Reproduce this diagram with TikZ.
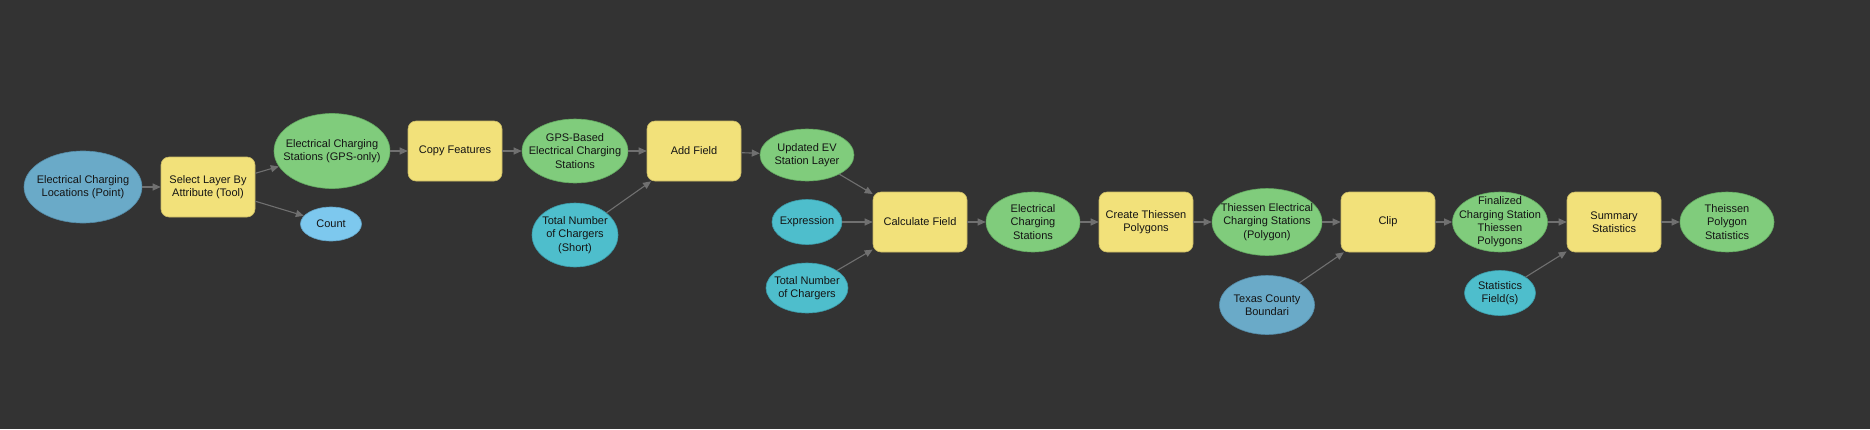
\documentclass[tikz,border=0pt]{standalone}
\usepackage{fontspec}
\setmainfont{Liberation Sans}
\usetikzlibrary{shapes.geometric,arrows.meta}
\definecolor{bgc}{RGB}{51,51,51}
\definecolor{toolc}{RGB}{242,225,122}
\definecolor{toolb}{RGB}{200,185,100}
\definecolor{outc}{RGB}{128,204,124}
\definecolor{outb}{RGB}{100,170,98}
\definecolor{inc}{RGB}{106,170,200}
\definecolor{inb}{RGB}{85,140,168}
\definecolor{cntc}{RGB}{125,200,238}
\definecolor{cntb}{RGB}{100,165,200}
\definecolor{parc}{RGB}{78,190,204}
\definecolor{parb}{RGB}{60,155,168}
\definecolor{arrc}{RGB}{112,112,112}
\definecolor{txtc}{RGB}{20,20,20}
\tikzset{
  txt/.style={inner sep=0pt, align=center, text=txtc, font=\fontsize{11}{13.3}\selectfont},
  base/.style={txt, line width=0.6pt},
  toolbox/.style={base, rectangle, rounded corners=8pt, fill=toolc, draw=toolb, minimum width=94pt, minimum height=60pt},
  ell/.style n args={3}{base, ellipse, minimum width=#1pt, minimum height=#2pt, label={[txt]center:#3}},
  outdata/.style n args={3}{ell={#1}{#2}{#3}, fill=outc, draw=outb},
  indata/.style n args={3}{ell={#1}{#2}{#3}, fill=inc, draw=inb},
  cntdata/.style n args={3}{ell={#1}{#2}{#3}, fill=cntc, draw=cntb},
  pardata/.style n args={3}{ell={#1}{#2}{#3}, fill=parc, draw=parb},
  conn/.style={draw=arrc, line width=1.1pt, -{Triangle[length=8pt,width=7pt]}}
}
\begin{document}
\begin{tikzpicture}[x=1pt,y=-1pt]
\fill[bgc] (0,0) rectangle (1870,429);
\useasboundingbox (0,0) rectangle (1870,429);
\node[indata={118}{72}{Electrical Charging\\Locations (Point)}] (ecl) at (83,187) {};
\node[toolbox] (slba) at (208,187) {Select Layer By\\Attribute (Tool)};
\node[outdata={116}{75}{Electrical Charging\\Stations (GPS-only)}] (ecsg) at (332,151) {};
\node[cntdata={61}{34}{Count}] (cnt) at (331,224) {};
\node[toolbox] (cf) at (455,151) {Copy Features};
\node[outdata={106}{64}{GPS-Based\\Electrical Charging\\Stations}] (gps) at (575,151) {};
\node[pardata={86}{64}{Total Number\\of Chargers\\(Short)}] (tncs) at (575,235) {};
\node[toolbox] (af) at (694,151) {Add Field};
\node[outdata={94}{52}{Updated EV\\Station Layer}] (uev) at (807,155) {};
\node[pardata={70}{45}{Expression}] (expr) at (807,222) {};
\node[pardata={82}{50}{Total Number\\of Chargers}] (tnc) at (807,288) {};
\node[toolbox] (calc) at (920,222) {Calculate Field};
\node[outdata={94}{60}{Electrical\\Charging\\Stations}] (ecs) at (1033,222) {};
\node[toolbox] (ctp) at (1146,222) {Create Thiessen\\Polygons};
\node[outdata={110}{67}{Thiessen Electrical\\Charging Stations\\(Polygon)}] (tecs) at (1267,222) {};
\node[indata={95}{59}{Texas County\\Boundari}] (tcb) at (1267,305) {};
\node[toolbox] (clip) at (1388,222) {Clip};
\node[outdata={95}{60}{Finalized\\Charging Station\\Thiessen\\Polygons}] (fin) at (1500,222) {};
\node[pardata={71}{45}{Statistics\\Field(s)}] (sf) at (1500,293) {};
\node[toolbox] (ss) at (1614,222) {Summary\\Statistics};
\node[outdata={94}{60}{Theissen\\Polygon\\Statistics}] (tps) at (1727,222) {};
\draw[conn] (ecl) -- (slba);
\draw[conn] (slba) -- (ecsg);
\draw[conn] (slba) -- (cnt);
\draw[conn] (ecsg) -- (cf);
\draw[conn] (cf) -- (gps);
\draw[conn] (gps) -- (af);
\draw[conn] (tncs) -- (af);
\draw[conn] (af) -- (uev);
\draw[conn] (uev) -- (calc);
\draw[conn] (expr) -- (calc);
\draw[conn] (tnc) -- (calc);
\draw[conn] (calc) -- (ecs);
\draw[conn] (ecs) -- (ctp);
\draw[conn] (ctp) -- (tecs);
\draw[conn] (tecs) -- (clip);
\draw[conn] (tcb) -- (clip);
\draw[conn] (clip) -- (fin);
\draw[conn] (fin) -- (ss);
\draw[conn] (sf) -- (ss);
\draw[conn] (ss) -- (tps);
\end{tikzpicture}
\end{document}
